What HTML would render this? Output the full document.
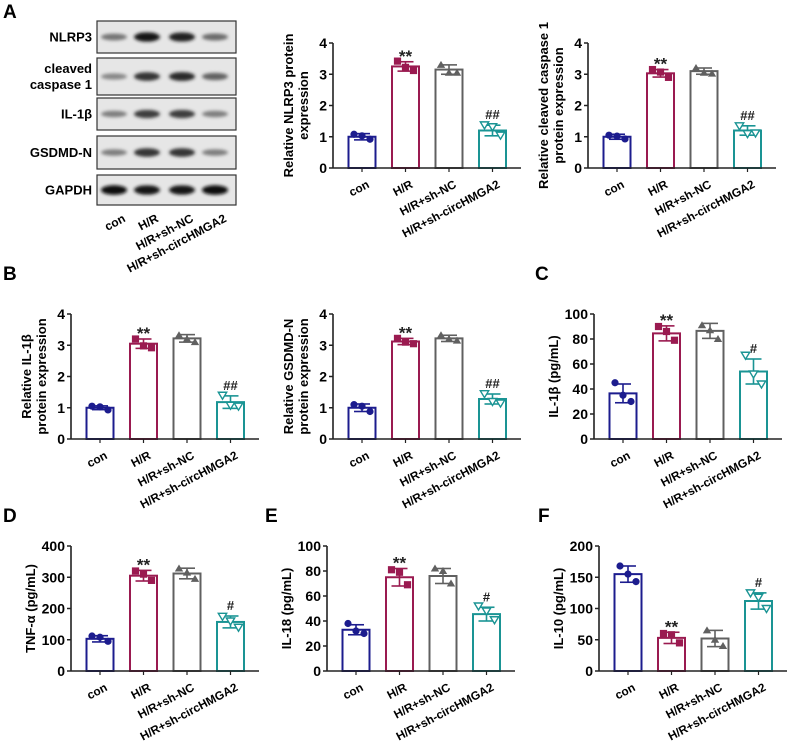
<!DOCTYPE html>
<html><head><meta charset="utf-8"><style>
body{margin:0;background:#fff;width:789px;height:745px;overflow:hidden}
svg{font-family:"Liberation Sans",Arial,sans-serif;font-weight:bold}
</style></head><body>
<svg id="fig" width="789" height="745" viewBox="0 0 789 745" xmlns="http://www.w3.org/2000/svg">
<defs><filter id="blur" x="-30%" y="-60%" width="160%" height="220%"><feGaussianBlur stdDeviation="1.6"/></filter></defs>
<g font-size="19">
<text x="3" y="18">A</text>
<text x="3" y="280">B</text>
<text x="535" y="280">C</text>
<text x="3" y="522">D</text>
<text x="265" y="522">E</text>
<text x="538" y="522">F</text>
</g>
<g id="blot"></g>
<g id="charts"></g>
</svg>
<script>
const groups = ["con","H/R","H/R+sh-NC","H/R+sh-circHMGA2"];
const colors = ["#1c1c8e","#9a1a50","#606060","#1a9494"];
// blot band intensities (0-1) per row / lane
const blotRows = ["NLRP3","cleaved\ncaspase 1","IL-1\u03b2","GSDMD-N","GAPDH"];
const blotIntensity = [[0.45,0.95,0.9,0.5],[0.35,0.8,0.85,0.55],[0.4,0.75,0.75,0.4],[0.4,0.8,0.8,0.4],[1,0.95,0.95,1]];

const nlrp3Means=[1.0,3.25,3.15,1.2];
const nlrp3Err=[0.1,0.15,0.15,0.17];
const nlrp3Pts=[[1.08,1.03,0.92],[3.42,3.22,3.12],[3.3,3.05,3.05],[1.38,1.32,1.05]];
const casp1Means=[1.0,3.03,3.1,1.2];
const casp1Err=[0.08,0.12,0.1,0.15];
const casp1Pts=[[1.05,1.02,0.93],[3.15,3.07,2.9],[3.2,3.05,3.02],[1.35,1.1,1.12]];
const il1bMeans=[1.0,3.05,3.22,1.18];
const il1bErr=[0.06,0.15,0.12,0.2];
const il1bPts=[[1.05,1.03,0.93],[3.2,2.98,2.92],[3.32,3.2,3.1],[1.4,1.08,1.05]];
const gsdmdMeans=[1.0,3.12,3.22,1.28];
const gsdmdErr=[0.12,0.1,0.1,0.16];
const gsdmdPts=[[1.1,1.05,0.88],[3.22,3.1,3.05],[3.32,3.2,3.15],[1.45,1.2,1.15]];
const il1bElMeans=[36.5,84.5,86.5,54];
const il1bElErr=[7.5,6,6,10];
const il1bElPts=[[45,35,30],[90,86,79],[91,87,80],[67,52,44]];
const tnfMeans=[103,305,312,157];
const tnfErr=[10,17,17,19];
const tnfPts=[[112,108,95],[320,310,290],[328,315,295],[175,160,140]];
const il18Means=[33,75,76,45.5];
const il18Err=[4,7,6,5.5];
const il18Pts=[[38,32,30],[81,79,69],[82,80,70],[52,48,41]];
const il10Means=[155,53,52,112];
const il10Err=[13,9,13,13];
const il10Pts=[[168,155,143],[60,58,45],[65,50,40],[125,118,100]];
const yTicks4=[0,1,2,3,4];
const yTicks100=[0,20,40,60,80,100];
const yTicks400=[0,100,200,300,400];
const yTicks200=[0,50,100,150,200];
const sigLabels=[["","**","","##"],["","**","","#"]];

const NS="http://www.w3.org/2000/svg";
function mk(parent,tag,attrs){const e=document.createElementNS(NS,tag);for(const k in attrs)e.setAttribute(k,attrs[k]);parent.appendChild(e);return e;}

// Western blot
(function(){
  const g=document.getElementById('blot');
  const rowY=[[21,53],[58,95],[98,130],[136,169],[175,205]];
  const laneX=[114,147,182,215];
  blotRows.forEach((name,r)=>{
    const [y0,y1]=rowY[r];
    const box=mk(g,'rect',{x:97,y:y0,width:139,height:y1-y0,fill:'#e6e6e6',stroke:'#333','stroke-width':1.2});
    
    
    const cy=(y0+y1)/2;
    blotIntensity[r].forEach((v,l)=>{
      const c=Math.round(200-185*v);
      const b=mk(g,'ellipse',{cx:laneX[l],cy:cy,rx:13,ry:2.2+2.6*v,fill:`rgb(${c},${c},${c})`,filter:'url(#blur)'});
      
      
    });
    const lines=name.split('\n');
    lines.forEach((ln,i)=>{
      const t=mk(g,'text',{x:92,y:cy+4.5+(i-(lines.length-1)/2)*16,'text-anchor':'end','font-size':13});
      t.textContent=ln;
      
      
    });
  });
  groups.forEach((gname,l)=>{
    const ax=laneX[l]+8, ay=213;
    const t=mk(g,'text',{x:ax,y:ay,'text-anchor':'end','font-size':12,transform:`rotate(-28 ${ax} ${ay})`,dy:'0.75em'});
    t.textContent=gname;
    
    
  });
})();

function marker(g,type,x,y,col){
  let e;
  if(type===0) e=mk(g,'circle',{cx:x,cy:y,r:3.6,fill:col});
  else if(type===1) e=mk(g,'rect',{x:x-3.6,y:y-3.6,width:7.2,height:7.2,fill:col});
  else if(type===2) e=mk(g,'path',{d:`M${x},${y-4}L${x+4.2},${y+3}L${x-4.2},${y+3}Z`,fill:col});
  else e=mk(g,'path',{d:`M${x},${y+4}L${x+4.2},${y-3}L${x-4.2},${y-3}Z`,fill:'#fff',stroke:col,'stroke-width':1.4});
  
  
}

function drawChart(cfg){
  const root=document.getElementById('charts');
  const g=mk(root,'g',{});
  
  
  const X0=cfg.x0,Y0=cfg.y0,H=125,ymax=cfg.ticks[cfg.ticks.length-1];
  const yS=v=>Y0-v/ymax*H;
  const xC=i=>X0+29+43.5*i;
  const ya=mk(g,'line',{x1:X0,y1:Y0,x2:X0,y2:Y0-H,stroke:'#222','stroke-width':1.6});
  
  
  cfg.ticks.forEach(t=>{
    const y=yS(t);
    mk(g,'line',{x1:X0-4,y1:y,x2:X0,y2:y,stroke:'#222','stroke-width':1.5});
    const tl=mk(g,'text',{x:X0-6,y:y+5,'text-anchor':'end','font-size':14});
    tl.textContent=t;
    
    
  });
  const tx=cfg.title.length>1?X0-40:X0-36;
  const tt=mk(g,'text',{'text-anchor':'middle','font-size':13,transform:`translate(${tx},${Y0-H/2}) rotate(-90)`});
  cfg.title.forEach((ln,i)=>{const s=mk(tt,'tspan',{x:0,dy:i===0?0:15});s.textContent=ln;});
  
  
  groups.forEach((gname,i)=>{
    const c=xC(i),col=colors[i],m=cfg.means[i];
    const bar=mk(g,'rect',{x:c-13.5,y:yS(m),width:27,height:Y0-yS(m),fill:'#fff',stroke:col,'stroke-width':2});
    
    
    const e=cfg.err[i];
    mk(g,'line',{x1:c,y1:yS(m-e),x2:c,y2:yS(m+e),stroke:col,'stroke-width':1.6});
    mk(g,'line',{x1:c-8,y1:yS(m+e),x2:c+8,y2:yS(m+e),stroke:col,'stroke-width':1.6});
    mk(g,'line',{x1:c-8,y1:yS(m-e),x2:c+8,y2:yS(m-e),stroke:col,'stroke-width':1.6});
    const offs=[-8,0,8];
    cfg.pts[i].forEach((p,k)=>marker(g,i,c+offs[k],yS(p),col));
    const sg=cfg.sig[i];
    if(sg){
      const st=mk(g,'text',{x:c,y:yS(m+e)-6,'text-anchor':'middle','font-size':sg[0]==='*'?17:13,fill:'#222'});
      st.textContent=sg;
      if(sg[0]==='*') st.setAttribute('dy','6');
      
      
    }
    mk(g,'line',{x1:c,y1:Y0,x2:c,y2:Y0+4,stroke:'#222','stroke-width':1.2});
    const ax=c+4, ay=Y0+11;
    const xl=mk(g,'text',{x:ax,y:ay,'text-anchor':'end','font-size':11.8,dy:'0.75em',transform:`rotate(-28 ${ax} ${ay})`});
    xl.textContent=gname;
    
    
  });
  const xa=mk(g,'line',{x1:X0,y1:Y0,x2:X0+188,y2:Y0,stroke:'#222','stroke-width':1.6});
  
  
}

drawChart({name:'chart-nlrp3',x0:333,y0:168,ticks:yTicks4,means:nlrp3Means,err:nlrp3Err,pts:nlrp3Pts,sig:sigLabels[0],title:['Relative NLRP3 protein','expression']});
drawChart({name:'chart-cleaved-caspase1',x0:588,y0:168,ticks:yTicks4,means:casp1Means,err:casp1Err,pts:casp1Pts,sig:sigLabels[0],title:['Relative cleaved caspase 1','protein expression']});
drawChart({name:'chart-il1b-protein',x0:71,y0:439,ticks:yTicks4,means:il1bMeans,err:il1bErr,pts:il1bPts,sig:sigLabels[0],title:['Relative IL-1\u03b2','protein expression']});
drawChart({name:'chart-gsdmd-n',x0:333,y0:439,ticks:yTicks4,means:gsdmdMeans,err:gsdmdErr,pts:gsdmdPts,sig:sigLabels[0],title:['Relative GSDMD-N','protein expression']});
drawChart({name:'chart-il1b-elisa',x0:594,y0:439,ticks:yTicks100,means:il1bElMeans,err:il1bElErr,pts:il1bElPts,sig:sigLabels[1],title:['IL-1\u03b2 (pg/mL)']});
drawChart({name:'chart-tnf-alpha',x0:71,y0:671,ticks:yTicks400,means:tnfMeans,err:tnfErr,pts:tnfPts,sig:sigLabels[1],title:['TNF-\u03b1 (pg/mL)']});
drawChart({name:'chart-il18',x0:327,y0:671,ticks:yTicks100,means:il18Means,err:il18Err,pts:il18Pts,sig:sigLabels[1],title:['IL-18 (pg/mL)']});
drawChart({name:'chart-il10',x0:599,y0:671,ticks:yTicks200,means:il10Means,err:il10Err,pts:il10Pts,sig:["","**","","#"],title:['IL-10 (pg/mL)']});
</script>
</body></html>
